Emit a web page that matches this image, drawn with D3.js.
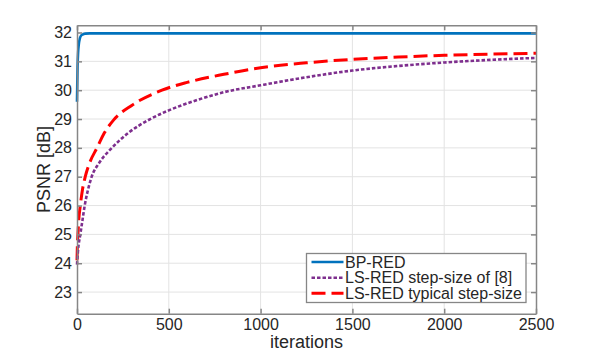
<!DOCTYPE html>
<html>
<head>
<meta charset="utf-8">
<script src="https://cdn.jsdelivr.net/npm/d3@7"></script>
<style>
  body { margin: 0; background: #fff; }
  svg { display: block; font-family: "Liberation Sans", Arial, sans-serif; }
</style>
</head>
<body>
<div id="chartContainer"></div>
<script>
// series
const bpIters = [0, 3, 6, 10, 15, 20, 30, 45, 70, 500, 1000, 1500, 2000, 2500];
const bpPsnr = [29.6, 30.8, 31.3, 31.6, 31.78, 31.87, 31.93, 31.96, 31.97, 31.97, 31.97, 31.97, 31.97, 31.97];

const lsIters = [0, 5, 18, 30, 42, 60, 80, 120, 190, 280, 399, 500, 650, 800, 1000, 1250, 1500, 1750, 2000, 2250, 2500];
const lsPsnr = [23.95, 24.4, 25.0, 25.5, 26.0, 26.55, 27.0, 27.47, 28.0, 28.52, 29.0, 29.3, 29.65, 29.93, 30.17, 30.45, 30.68, 30.84, 30.96, 31.05, 31.12];

const typIters = [0, 2, 5, 10, 18, 30, 45, 70, 109, 150, 200, 300, 463, 600, 800, 1000, 1250, 1500, 1750, 2000, 2250, 2500];
const typPsnr = [24.1, 24.6, 25.0, 25.54, 26.0, 26.56, 27.0, 27.5, 28.0, 28.53, 28.97, 29.48, 30.0, 30.27, 30.55, 30.78, 30.95, 31.07, 31.15, 31.21, 31.25, 31.28];

const seriesNames = ["BP-RED", "LS-RED step-size of [8]", "LS-RED typical step-size"];
const xTicks = [0, 500, 1000, 1500, 2000, 2500];
const yTicks = [23, 24, 25, 26, 27, 28, 29, 30, 31, 32];

const width = 592;
const height = 353;
const marginLeft = 77;
const marginRight = 56;
const marginTop = 25.3;
const marginBottom = 39.3;

const x = d3.scaleLinear()
  .domain([0, 2500])
  .range([marginLeft, width - marginRight]);

const y = d3.scaleLinear()
  .domain([22.25, 32.25])
  .range([height - marginBottom, marginTop]);

const svg = d3.create("svg")
  .attr("width", width)
  .attr("height", height)
  .attr("viewBox", [0, 0, width, height]);

document.getElementById("chartContainer").appendChild(svg.node());

const axisColor = "#868686";
const textColor = "#262626";

// grid
svg.append("g")
  .attr("stroke", "#e3e3e3")
  .attr("stroke-width", 1)
  .selectAll()
  .data(xTicks.slice(1, -1))
  .join("line")
  .attr("x1", d => x(d)).attr("x2", d => x(d))
  .attr("y1", y.range()[0]).attr("y2", y.range()[1]);

svg.append("g")
  .attr("stroke", "#e3e3e3")
  .attr("stroke-width", 1)
  .selectAll()
  .data(yTicks)
  .join("line")
  .attr("x1", x.range()[0]).attr("x2", x.range()[1])
  .attr("y1", d => y(d)).attr("y2", d => y(d));

// curves
const series = [
  { name: seriesNames[0], xs: bpIters, ys: bpPsnr, color: "#0072BD", dash: null, w: 2.6 },
  { name: seriesNames[1], xs: lsIters, ys: lsPsnr, color: "#7E2F8E", dash: "3.5,2", w: 2.6 },
  { name: seriesNames[2], xs: typIters, ys: typPsnr, color: "#FF0000", dash: "14,6", w: 3 }
];

const line = d3.line()
  .x(d => x(d[0]))
  .y(d => y(d[1]))
  .curve(d3.curveMonotoneX);

svg.append("g")
  .attr("fill", "none")
  .selectAll()
  .data(series.slice().reverse())
  .join("path")
  .attr("stroke", d => d.color)
  .attr("stroke-width", d => d.w)
  .attr("stroke-dasharray", d => d.dash)
  .attr("d", d => line(d.xs.map((v, i) => [v, d.ys[i]])));

// axes (matlab style box, ticks inward on all sides)
const fontSize = "16px";
const fmt = d3.format("d");

svg.append("g")
  .attr("transform", `translate(0,${y.range()[0]})`)
  .call(d3.axisBottom(x).tickValues(xTicks).tickFormat(fmt).tickSize(-5).tickPadding(5).tickSizeOuter(0))
  .call(g => g.selectAll("text").style("font-size", fontSize).attr("fill", textColor))
  .call(g => g.selectAll("line, path").attr("stroke", axisColor).attr("stroke-width", 1.5));

svg.append("g")
  .attr("transform", `translate(0,${y.range()[1]})`)
  .call(d3.axisTop(x).tickValues(xTicks).tickSize(-5).tickFormat("").tickSizeOuter(0))
  .call(g => g.selectAll("line, path").attr("stroke", axisColor).attr("stroke-width", 1.5));

svg.append("g")
  .attr("transform", `translate(${x.range()[0]},0)`)
  .call(d3.axisLeft(y).tickValues(yTicks).tickFormat(fmt).tickSize(-5).tickPadding(5).tickSizeOuter(0))
  .call(g => g.selectAll("text").style("font-size", fontSize).attr("fill", textColor))
  .call(g => g.selectAll("line, path").attr("stroke", axisColor).attr("stroke-width", 1.5));

svg.append("g")
  .attr("transform", `translate(${x.range()[1]},0)`)
  .call(d3.axisRight(y).tickValues(yTicks).tickSize(-5).tickFormat("").tickSizeOuter(0))
  .call(g => g.selectAll("line, path").attr("stroke", axisColor).attr("stroke-width", 1.5));

// labels
svg.append("text")
  .attr("x", (x.range()[0] + x.range()[1]) / 2)
  .attr("y", 348)
  .attr("text-anchor", "middle")
  .attr("fill", textColor)
  .style("font-size", "18px")
  .text("iterations");

svg.append("text")
  .attr("transform", `translate(50,${(y.range()[0] + y.range()[1]) / 2}) rotate(-90)`)
  .attr("text-anchor", "middle")
  .attr("fill", textColor)
  .style("font-size", "18px")
  .text("PSNR [dB]");

// legend
const legend = svg.append("g");
legend.append("rect")
  .attr("x", 306.5).attr("y", 253.5)
  .attr("width", 219.5).attr("height", 49)
  .attr("fill", "#fff")
  .attr("stroke", axisColor)
  .attr("stroke-width", 1.3);

const rowY = [262, 277.7, 293.3];
const item = legend.selectAll("g.item")
  .data(series)
  .join("g")
  .attr("class", "item")
  .attr("transform", (d, i) => `translate(0,${rowY[i]})`);

item.append("line")
  .attr("x1", 311.5).attr("x2", 343.5)
  .attr("stroke", d => d.color)
  .attr("stroke-width", d => d.w)
  .attr("stroke-dasharray", d => d.dash);

item.append("text")
  .attr("x", 345)
  .attr("dy", "0.35em")
  .attr("fill", textColor)
  .style("font-size", "16px")
  .text(d => d.name);
</script>
</body>
</html>
